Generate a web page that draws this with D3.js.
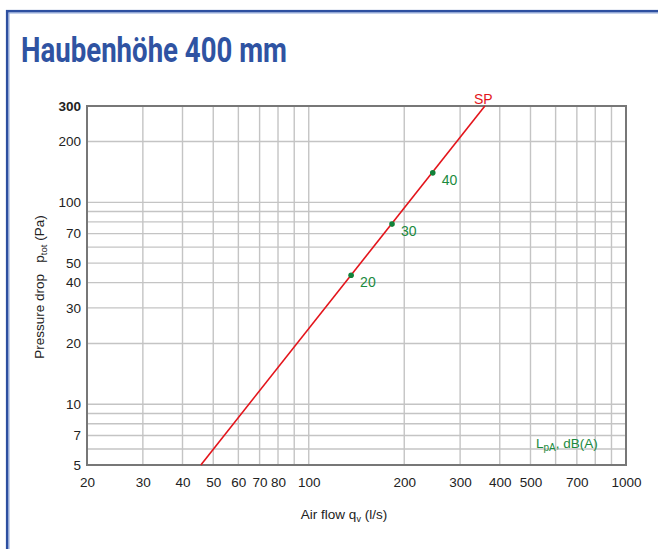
<!DOCTYPE html>
<html>
<head>
<meta charset="utf-8">
<script src="https://cdn.jsdelivr.net/npm/d3@7"></script>
<style>
  html, body { margin: 0; padding: 0; background: #ffffff; }
  svg { display: block; }
</style>
</head>
<body>
<script>
// ---- data ----
const titleText = "Haubenhöhe 400 mm";
const flowTicks = [20, 30, 40, 50, 60, 70, 80, 100, 200, 300, 400, 500, 700, 1000];
const pressureTicks = [5, 7, 10, 20, 30, 40, 50, 70, 100, 200, 300];
const flowGrid = [30, 40, 50, 60, 70, 80, 90, 100, 200, 300, 400, 500, 600, 700, 800, 900];
const pressureGrid = [6, 7, 8, 9, 10, 20, 30, 40, 50, 60, 70, 80, 90, 100, 200];
const spFlow = [45.7, 359];
const spPressure = [5, 300];
const soundFlow = [136, 183, 246];
const soundPressure = [43.5, 78, 140];
const soundLevel = ["20", "30", "40"];

const W = 658, H = 549;
const svg = d3.select("body").append("svg").attr("width", W).attr("height", H);

// page frame
svg.append("rect").attr("x", 7.2).attr("y", 11.2).attr("width", 700).attr("height", 600)
  .attr("fill", "none").attr("stroke", "#2d4fa0").attr("stroke-width", 2.6);
svg.append("rect").attr("x", 9).attr("y", 13).attr("width", 700).attr("height", 600)
  .attr("fill", "none").attr("stroke", "#8ea6da").attr("stroke-width", 1);

// title
svg.append("text").attr("x", 21).attr("y", 62)
  .attr("font-family", "Roboto, 'DejaVu Sans', sans-serif").attr("font-weight", 700)
  .attr("font-size", 35).attr("fill", "#2f53a2")
  .attr("textLength", 266).attr("lengthAdjust", "spacingAndGlyphs")
  .text(titleText);

const x = d3.scaleLog().domain([20, 1000]).range([87, 626]);
const y = d3.scaleLog().domain([5, 300]).range([465, 106]);

const font = "'Liberation Sans', Arial, Helvetica, sans-serif";

// grid
const g = svg.append("g");
g.selectAll("line.gx").data(flowGrid).join("line")
  .attr("x1", d => x(d)).attr("x2", d => x(d)).attr("y1", y(300)).attr("y2", y(5))
  .attr("stroke", "#c4c4c4").attr("stroke-width", 1.4);
g.selectAll("line.gy").data(pressureGrid).join("line")
  .attr("y1", d => y(d)).attr("y2", d => y(d)).attr("x1", x(20)).attr("x2", x(1000))
  .attr("stroke", "#c4c4c4").attr("stroke-width", 1.4);

// frame
svg.append("rect").attr("x", x(20)).attr("y", y(300))
  .attr("width", x(1000) - x(20)).attr("height", y(5) - y(300))
  .attr("fill", "none").attr("stroke", "#777777").attr("stroke-width", 2);

// axes via d3 axis (labels only)
const xAxis = d3.axisBottom(x).tickValues(flowTicks).tickFormat(d3.format("d")).tickSize(0).tickPadding(12.5);
const xg = svg.append("g").attr("transform", `translate(0,${y(5)})`).call(xAxis);
xg.select(".domain").remove();
xg.selectAll("text").attr("font-family", font).attr("font-size", 13.5).attr("fill", "#222");

const yAxis = d3.axisLeft(y).tickValues(pressureTicks).tickFormat(d3.format("d")).tickSize(0).tickPadding(6);
const yg = svg.append("g").attr("transform", `translate(${x(20)},0)`).call(yAxis);
yg.select(".domain").remove();
yg.selectAll("text").attr("font-family", font).attr("font-size", 13.5).attr("fill", "#222")
  .attr("font-weight", d => d === 300 ? 700 : 400);

// SP line
const line = d3.line().x(d => x(d[0])).y(d => y(d[1]));
svg.append("path").datum(d3.zip(spFlow, spPressure)).attr("d", line)
  .attr("fill", "none").attr("stroke", "#e3141b").attr("stroke-width", 1.6);
svg.append("text").attr("x", x(spFlow[1]) - 1.5).attr("y", y(spPressure[1]) - 2)
  .attr("text-anchor", "middle").attr("font-family", font).attr("font-size", 14)
  .attr("fill", "#e3141b").text("SP");

// sound points
const pts = d3.zip(soundFlow, soundPressure, soundLevel);
svg.selectAll("circle.s").data(pts).join("circle")
  .attr("cx", d => x(d[0])).attr("cy", d => y(d[1])).attr("r", 2.8).attr("fill", "#12823a");
svg.selectAll("text.s").data(pts).join("text")
  .attr("x", d => x(d[0]) + 9).attr("y", d => y(d[1]) + 12)
  .attr("font-family", font).attr("font-size", 14).attr("fill", "#1b8a3e")
  .text(d => d[2]);

// LpA label
const lp = svg.append("text").attr("x", 536).attr("y", 448)
  .attr("font-family", font).attr("font-size", 13.5).attr("fill", "#1b8a3e");
lp.append("tspan").text("L");
lp.append("tspan").attr("font-size", 10).attr("dy", 3).text("pA");
lp.append("tspan").attr("dy", -3).text(", dB(A)");

// axis titles
const xt = svg.append("text").attr("x", 344).attr("y", 519).attr("text-anchor", "middle")
  .attr("font-family", font).attr("font-size", 13.5).attr("fill", "#222");
xt.append("tspan").text("Air flow q");
xt.append("tspan").attr("font-size", 9).attr("dy", 3).text("v");
xt.append("tspan").attr("dy", -3).text(" (l/s)");

const yt = svg.append("text").attr("transform", "translate(44,287) rotate(-90)")
  .attr("text-anchor", "middle")
  .attr("font-family", font).attr("font-size", 13.5).attr("fill", "#222");
yt.append("tspan").text("Pressure drop\u00a0\u00a0\u00a0p");
yt.append("tspan").attr("font-size", 9.5).attr("dy", 3).text("tot");
yt.append("tspan").attr("dy", -3).text(" (Pa)");
</script>
</body>
</html>
